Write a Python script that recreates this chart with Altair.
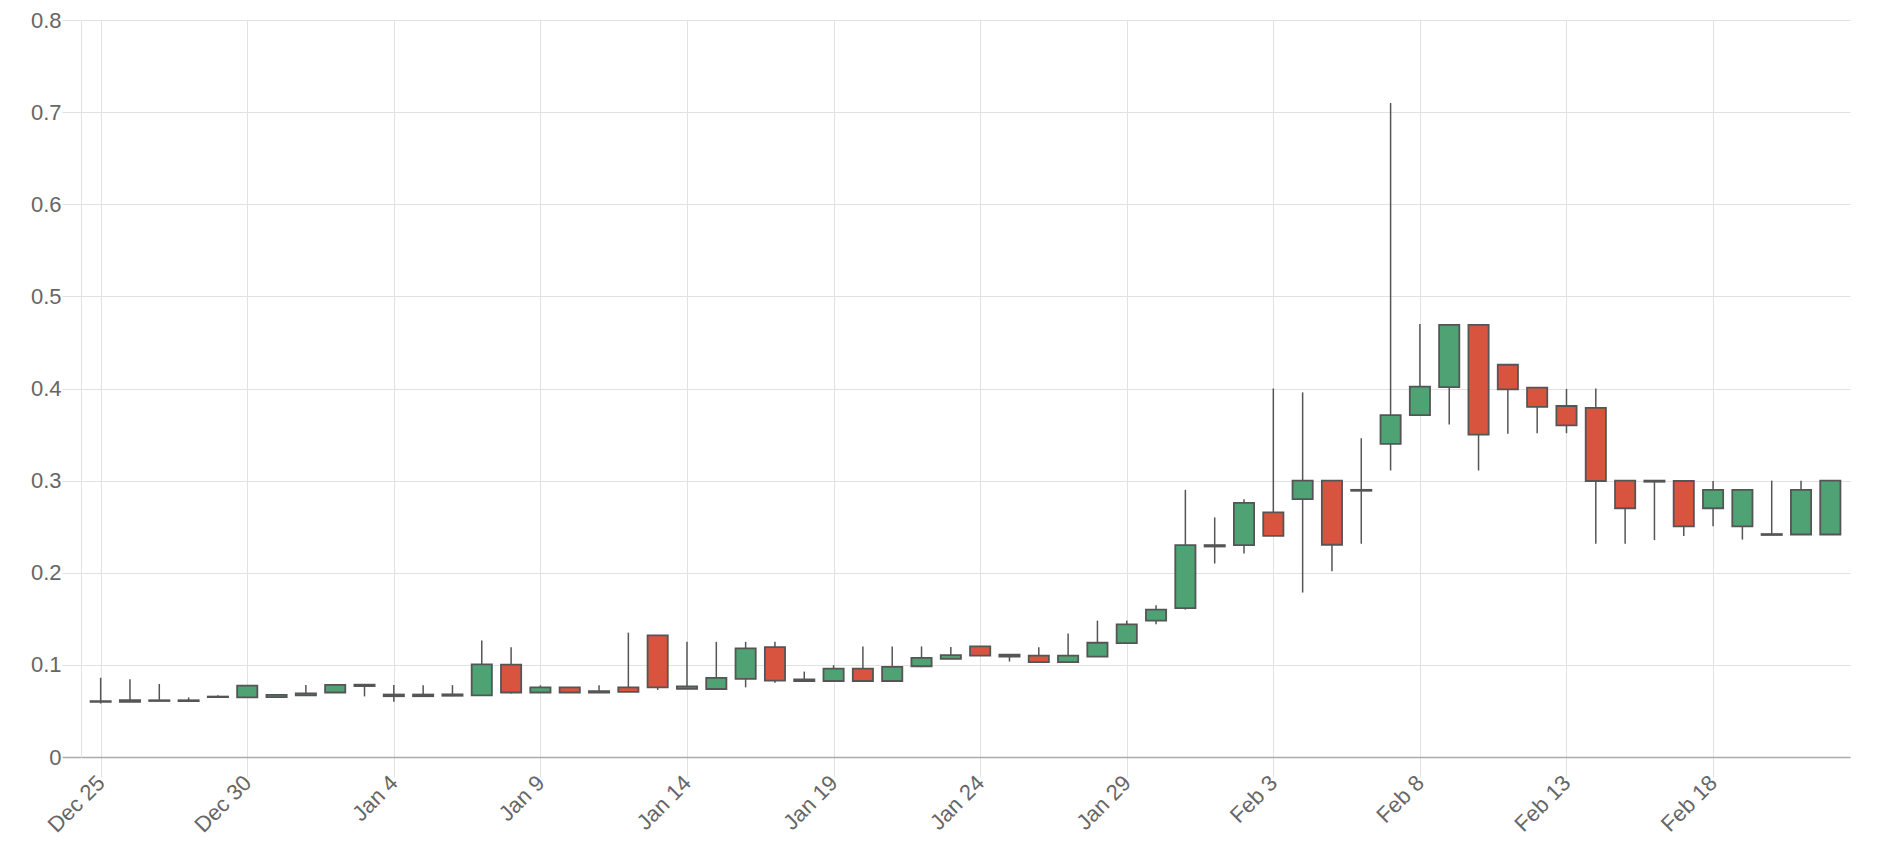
import altair as alt
import pandas as pd

# ---- data ----
dates = pd.date_range("2017-12-25", periods=60, freq="D").strftime("%Y-%m-%d").tolist()

opens = [0.0605, 0.0598, 0.0608, 0.0607, 0.0650, 0.0648, 0.0650, 0.0670, 0.0700, 0.0785,
         0.0678, 0.0660, 0.0665, 0.0670, 0.1003, 0.0700, 0.0755, 0.0700, 0.0756, 0.1320,
         0.0740, 0.0738, 0.0847, 0.1193, 0.0824, 0.0825, 0.0960, 0.0825, 0.0985, 0.1065,
         0.1200, 0.1110, 0.1100, 0.1030, 0.1090, 0.1236, 0.1480, 0.1617, 0.2285, 0.2300,
         0.2655, 0.2800, 0.3000, 0.2890, 0.3400, 0.3710, 0.4015, 0.4690, 0.4258, 0.4010,
         0.3810, 0.3790, 0.3000, 0.3000, 0.2996, 0.2700, 0.2504, 0.2410, 0.2415, 0.2415]
highs = [0.0860, 0.0844, 0.0793, 0.0647, 0.0669, 0.0775, 0.0684, 0.0782, 0.0785, 0.0788,
         0.0782, 0.0780, 0.0780, 0.1265, 0.1190, 0.0778, 0.0756, 0.0778, 0.1350, 0.1320,
         0.1250, 0.1250, 0.1250, 0.1250, 0.0927, 0.0996, 0.1200, 0.1200, 0.1200, 0.1195,
         0.1200, 0.1115, 0.1190, 0.1340, 0.1480, 0.1480, 0.1646, 0.2900, 0.2600, 0.2797,
         0.4000, 0.3958, 0.3000, 0.3460, 0.7100, 0.4700, 0.4690, 0.4690, 0.4258, 0.4010,
         0.3996, 0.4000, 0.3000, 0.3000, 0.2996, 0.2996, 0.2900, 0.3000, 0.3000, 0.3000]
lows = [0.0580, 0.0596, 0.0607, 0.0605, 0.0650, 0.0648, 0.0648, 0.0668, 0.0700, 0.0658,
        0.0600, 0.0658, 0.0660, 0.0669, 0.0690, 0.0698, 0.0698, 0.0698, 0.0705, 0.0727,
        0.0738, 0.0738, 0.0756, 0.0807, 0.0822, 0.0825, 0.0825, 0.0825, 0.0975, 0.1065,
        0.1100, 0.1036, 0.1030, 0.1030, 0.1090, 0.1236, 0.1440, 0.1600, 0.2100, 0.2208,
        0.2400, 0.1785, 0.2015, 0.2315, 0.3110, 0.3705, 0.3610, 0.3110, 0.3510, 0.3515,
        0.3515, 0.2315, 0.2315, 0.2354, 0.2400, 0.2504, 0.2360, 0.2410, 0.2415, 0.2415]
closes = [0.0600, 0.0618, 0.0616, 0.0616, 0.0656, 0.0775, 0.0674, 0.0690, 0.0783, 0.0770,
          0.0660, 0.0678, 0.0680, 0.1005, 0.0700, 0.0755, 0.0700, 0.0714, 0.0706, 0.0756,
          0.0765, 0.0858, 0.1180, 0.0829, 0.0842, 0.0960, 0.0825, 0.0978, 0.1076, 0.1105,
          0.1100, 0.1090, 0.1030, 0.1100, 0.1240, 0.1440, 0.1600, 0.2300, 0.2300, 0.2758,
          0.2400, 0.3000, 0.2304, 0.2900, 0.3710, 0.4020, 0.4690, 0.3500, 0.3990, 0.3800,
          0.3600, 0.2996, 0.2700, 0.2988, 0.2504, 0.2900, 0.2900, 0.2420, 0.2900, 0.3000]

tick_dates = ["2017-12-25", "2017-12-30", "2018-01-04", "2018-01-09", "2018-01-14",
              "2018-01-19", "2018-01-24", "2018-01-29", "2018-02-03", "2018-02-08",
              "2018-02-13", "2018-02-18"]
y_ticks = [0, 0.1, 0.2, 0.3, 0.4, 0.5, 0.6, 0.7, 0.8]

# ---- style ----
GREEN = "#4fa274"
RED = "#d9543f"
EDGE = "#555555"
GRID = "#e2e2e2"
ZERO = "#ababab"
TEXT = "#666666"
FONT = "Liberation Sans"
FS = 22

df = pd.DataFrame({"date": dates, "open": opens, "high": highs,
                   "low": lows, "close": closes})
df["dir"] = ["up" if c >= o else "down" for o, c in zip(opens, closes)]


def dt(s, hours=0):
    y, m, d = (int(p) for p in s.split("-"))
    return alt.DateTime(year=y, month=m, date=d, hours=hours, utc=True)


x_enc = alt.X(
    "date:T",
    scale=alt.Scale(type="utc", domain=[dt("2017-12-24", 12), dt("2018-02-22", 12)]),
    axis=alt.Axis(
        values=[dt(s) for s in tick_dates],
        format="%b %-d",
        labelAngle=-45,
        labelAlign="right",
        labelBaseline="middle",
        labelPadding=2,
        labelFont=FONT,
        labelFontSize=FS,
        labelColor=TEXT,
        tickSize=20,
        tickColor=GRID,
        tickWidth=1,
        grid=True,
        gridColor=GRID,
        gridWidth=1,
        domainColor=ZERO,
        domainWidth=1.5,
        title=None,
    ),
)

y_axis = alt.Axis(
    values=y_ticks,
    format="~g",
    labelFont=FONT,
    labelFontSize=FS,
    labelColor=TEXT,
    labelPadding=1,
    tickSize=19,
    tickColor={"condition": {"test": "datum.value === 0", "value": ZERO}, "value": GRID},
    tickWidth={"condition": {"test": "datum.value === 0", "value": 1.5}, "value": 1},
    grid=True,
    gridColor=GRID,
    gridWidth=1,
    domainColor=GRID,
    domainWidth=1,
    title=None,
)

base = alt.Chart(df)

wicks = base.mark_rule(color=EDGE, strokeWidth=1.5).encode(
    x=x_enc,
    y=alt.Y("low:Q", scale=alt.Scale(domain=[0, 0.8], nice=False), axis=y_axis),
    y2="high:Q",
)

bodies = base.mark_bar(size=20.2, stroke=EDGE, strokeWidth=1.8).encode(
    x=alt.X("date:T"),
    y=alt.Y("open:Q"),
    y2="close:Q",
    color=alt.Color("dir:N", scale=alt.Scale(domain=["up", "down"], range=[GREEN, RED]),
                    legend=None),
)

chart = (
    alt.layer(wicks, bodies)
    .properties(
        width=1769,
        height=737,
        autosize=alt.AutoSizeParams(type="none"),
        padding={"left": 73, "top": 12, "right": 22, "bottom": 89},
        background="white",
    )
    .configure_view(strokeWidth=0)
)

chart.save("out.html", embed_options={"renderer": "svg", "actions": False})
